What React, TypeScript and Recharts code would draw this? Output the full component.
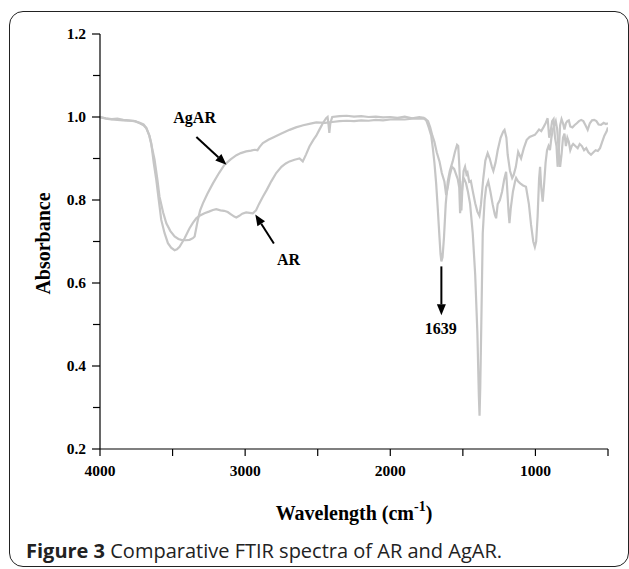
import React from "react";
import {
  LineChart,
  Line,
  XAxis,
  YAxis,
  ReferenceLine,
  ReferenceDot,
} from "recharts";

// wavenumber (cm-1) / absorbance pairs
const arWavenumber = [
  4000, 3960, 3920, 3880, 3840, 3800, 3760, 3726, 3700, 3681, 3660, 3647, 3630, 3612, 3595, 3578,
  3555, 3532, 3510, 3486, 3470, 3452, 3435, 3417, 3400, 3383, 3360, 3337, 3314, 3280, 3250, 3222,
  3199, 3170, 3145, 3120, 3100, 3075, 3061, 3040, 3020, 2993, 2970, 2947, 2925, 2905, 2878, 2850,
  2820, 2786, 2750, 2720, 2694, 2660, 2625, 2603, 2580, 2557, 2530, 2510, 2489, 2465, 2442, 2432,
  2425, 2420, 2413, 2400, 2350, 2300, 2250, 2200, 2150, 2100, 2050, 2000, 1950, 1900, 1850, 1800,
  1770, 1750, 1735, 1718, 1707, 1696, 1684, 1673, 1661, 1654, 1648, 1640, 1630, 1618, 1604, 1590,
  1570, 1555, 1540, 1532, 1524, 1515, 1510, 1503, 1495, 1485, 1475, 1468, 1456, 1445, 1432, 1415,
  1400, 1386, 1375, 1360, 1345, 1329, 1315, 1300, 1290, 1275, 1260, 1240, 1222, 1213, 1200, 1191,
  1175, 1160, 1150, 1135, 1119, 1099, 1080, 1060, 1040, 1020, 1004, 990, 975, 960, 945, 930, 916,
  905, 895, 885, 875, 865, 855, 847, 840, 830, 820, 810, 800, 790, 780, 770, 760, 745, 731, 715,
  700, 685, 670, 655, 640, 625, 610, 595, 580, 565, 548, 530, 515, 500,
];
const arAbsorbance = [
  1.0, 0.997, 0.995, 0.996, 0.993, 0.992, 0.99, 0.985, 0.98, 0.973, 0.955, 0.937, 0.89, 0.848, 0.8, 0.752,
  0.72, 0.696, 0.685, 0.679, 0.681, 0.687, 0.697, 0.708, 0.72, 0.732, 0.745, 0.756, 0.762, 0.768, 0.772, 0.776,
  0.778, 0.775, 0.774, 0.771, 0.766, 0.76, 0.758, 0.762, 0.767, 0.77, 0.769, 0.768, 0.775, 0.79, 0.808, 0.825,
  0.845, 0.865, 0.88, 0.888, 0.893, 0.897, 0.9, 0.893, 0.91, 0.929, 0.945, 0.955, 0.969, 0.985, 0.997, 1.0,
  0.98, 0.962, 0.985, 1.0, 1.002, 1.003, 1.001, 1.002, 1.0, 1.001, 0.999, 1.0, 0.998, 1.001, 0.997, 1.0,
  0.998, 0.99, 0.975, 0.955, 0.925, 0.89, 0.84, 0.78, 0.71, 0.67, 0.652, 0.662, 0.71, 0.79, 0.845, 0.87,
  0.893, 0.915, 0.933, 0.93, 0.88, 0.79, 0.775, 0.83, 0.87, 0.88, 0.862, 0.866, 0.844, 0.846, 0.822, 0.792,
  0.772, 0.762, 0.79, 0.85, 0.895, 0.913, 0.9, 0.88, 0.87, 0.89, 0.92, 0.95, 0.965, 0.969, 0.95, 0.909,
  0.87, 0.853, 0.86, 0.88, 0.916, 0.9, 0.925, 0.945, 0.952, 0.955, 0.957, 0.963, 0.97, 0.966, 0.975, 0.985, 0.997,
  0.95, 0.965, 0.99, 0.995, 0.95, 0.93, 0.88, 0.91, 0.98, 0.995, 0.985, 0.97, 0.985, 0.99, 0.992, 0.977, 0.975, 0.98, 0.985,
  0.99, 0.993, 0.99, 0.98, 0.969, 0.985, 0.992, 0.993, 0.99, 0.982, 0.981, 0.986, 0.983, 0.985,
];

const agarWavenumber = [
  4000, 3960, 3920, 3880, 3840, 3800, 3760, 3726, 3700, 3681, 3660, 3647, 3624, 3605, 3590, 3565,
  3543, 3515, 3486, 3460, 3440, 3410, 3383, 3360, 3348, 3326, 3310, 3291, 3260, 3222, 3180, 3142,
  3100, 3060, 3030, 2993, 2960, 2935, 2915, 2900, 2878, 2840, 2800, 2750, 2694, 2650, 2600, 2550,
  2510, 2450, 2400, 2350, 2300, 2250, 2200, 2150, 2100, 2050, 2000, 1950, 1900, 1850, 1800, 1760,
  1740, 1725, 1710, 1696, 1680, 1661, 1645, 1627, 1615, 1604, 1590, 1575, 1560, 1545, 1535, 1525,
  1519, 1512, 1500, 1490, 1478, 1465, 1450, 1432, 1415, 1400, 1390, 1385, 1380, 1372, 1363, 1350,
  1340, 1325, 1310, 1295, 1280, 1271, 1260, 1245, 1230, 1215, 1202, 1195, 1185, 1179, 1170, 1155,
  1140, 1133, 1120, 1105, 1085, 1065, 1045, 1030, 1015, 1004, 995, 985, 975, 968, 960, 950, 940,
  930, 920, 910, 900, 890, 880, 870, 860, 850, 840, 830, 820, 810, 800, 790, 780, 770, 760, 750,
  740, 725, 709, 695, 680, 665, 650, 635, 617, 600, 585, 570, 555, 540, 525, 510, 500,
];
const agarAbsorbance = [
  1.0, 0.996, 0.994, 0.993, 0.992, 0.991, 0.99, 0.986, 0.982, 0.974, 0.955, 0.935, 0.897, 0.85, 0.808, 0.77,
  0.744, 0.725, 0.712, 0.706, 0.704, 0.703, 0.704, 0.708, 0.712, 0.752, 0.775, 0.792, 0.815, 0.84, 0.865, 0.885,
  0.898, 0.908, 0.913, 0.917, 0.919, 0.921, 0.92, 0.928, 0.937, 0.945, 0.952, 0.96, 0.969, 0.975, 0.98, 0.984,
  0.987, 0.986, 0.988, 0.99, 0.991, 0.99, 0.992, 0.991, 0.993, 0.992, 0.994, 0.995, 0.994, 0.996, 0.996, 0.996,
  0.99, 0.975, 0.955, 0.94, 0.915, 0.893, 0.865, 0.844, 0.812, 0.83, 0.86, 0.88, 0.875, 0.86, 0.85, 0.83,
  0.768, 0.8, 0.845, 0.85, 0.84, 0.82, 0.79, 0.72, 0.62, 0.48, 0.33, 0.28, 0.35, 0.52, 0.72, 0.8,
  0.83, 0.845, 0.82, 0.79, 0.765, 0.756, 0.79, 0.8, 0.82, 0.85, 0.868, 0.83, 0.77, 0.744, 0.78, 0.82,
  0.845, 0.853, 0.845, 0.84, 0.835, 0.832, 0.79, 0.74, 0.7, 0.687, 0.7, 0.76, 0.85, 0.88, 0.83, 0.796, 0.84,
  0.89, 0.92, 0.93, 0.92, 0.95, 0.97, 0.98, 0.99, 0.97, 0.92, 0.88, 0.91, 0.95, 0.96, 0.93, 0.95, 0.94, 0.92, 0.93,
  0.935, 0.93, 0.925, 0.935, 0.93, 0.92, 0.925, 0.915, 0.909, 0.915, 0.92, 0.918, 0.925, 0.94, 0.955, 0.965, 0.975,
];

const xTicks = [4000, 3500, 3000, 2500, 2000, 1500, 1000, 500];
const yTicks = [0.2, 0.3, 0.4, 0.5, 0.6, 0.7, 0.8, 0.9, 1.0, 1.1, 1.2];

const arData = arWavenumber.map((w, i) => ({ w, a: arAbsorbance[i] }));
const agarData = agarWavenumber.map((w, i) => ({ w, a: agarAbsorbance[i] }));

const SERIF = "'Liberation Serif', 'Times New Roman', serif";
const SPECTRUM = "#c6c6c6";

const XTick = (props: any) => {
  const { x, y, payload } = props;
  const v = payload.value;
  return (
    <g>
      <line x1={x} y1={y} x2={x} y2={y + 7} stroke="#000" strokeWidth={1.2} />
      {v % 1000 === 0 && (
        <text x={x} y={y + 27} textAnchor="middle" fontFamily={SERIF} fontWeight="bold" fontSize={15.5} fill="#000">
          {v}
        </text>
      )}
    </g>
  );
};

const YTick = (props: any) => {
  const { x, y, payload } = props;
  const v = Math.round(payload.value * 10);
  const major = v % 2 === 0;
  return (
    <g>
      <line x1={x - (major ? 8 : 7)} y1={y} x2={x} y2={y} stroke="#000" strokeWidth={1.2} />
      {major && (
        <text x={x - 14} y={y + 5} textAnchor="end" fontFamily={SERIF} fontWeight="bold" fontSize={15.5} fill="#000">
          {(v / 10).toFixed(1)}
        </text>
      )}
    </g>
  );
};

const Arrow = (p: any) => {
  const { x1, y1, x2, y2 } = p;
  const dx = x2 - x1;
  const dy = y2 - y1;
  const len = Math.hypot(dx, dy) || 1;
  const ux = dx / len;
  const uy = dy / len;
  const hl = 11;
  const hw = 4.5;
  const bx = x2 - ux * hl;
  const by = y2 - uy * hl;
  return (
    <g>
      <line x1={x1} y1={y1} x2={bx} y2={by} stroke="#000" strokeWidth={2} />
      <polygon
        points={`${x2},${y2} ${bx - uy * hw},${by + ux * hw} ${bx + uy * hw},${by - ux * hw}`}
        fill="#000"
      />
    </g>
  );
};

const tag = (text: string) => (p: any) => (
  <text
    x={p.cx}
    y={p.cy}
    textAnchor="middle"
    dominantBaseline="central"
    fontFamily={SERIF}
    fontWeight="bold"
    fontSize={16}
    fill="#000"
  >
    {text}
  </text>
);

const YTitle = (props: any) => {
  const vb = props.viewBox || { x: 0, y: 34, width: 100, height: 415 };
  const cx = 43;
  const cy = vb.y + vb.height / 2 + 2;
  return (
    <text
      x={cx}
      y={cy}
      transform={`rotate(-90 ${cx} ${cy})`}
      textAnchor="middle"
      dominantBaseline="central"
      fontFamily={SERIF}
      fontWeight="bold"
      fontSize={20}
      fill="#000"
    >
      Absorbance
    </text>
  );
};

const XTitle = (props: any) => {
  const vb = props.viewBox || { x: 100, y: 449, width: 508, height: 120 };
  const cx = vb.x + vb.width / 2;
  return (
    <text x={cx} y={520} textAnchor="middle" fontFamily={SERIF} fontWeight="bold" fontSize={20} fill="#000">
      <tspan>Wavelength (cm</tspan>
      <tspan dy={-9} fontSize={14}>-1</tspan>
      <tspan dy={9}>)</tspan>
    </text>
  );
};

export default function App() {
  return (
    <div style={{ position: "absolute", left: 0, top: 0, width: 629, height: 569, background: "#fff" }}>
      <div
        style={{
          position: "absolute",
          left: 9,
          top: 11,
          width: 620,
          height: 556,
          boxSizing: "border-box",
          border: "1.5px solid #222",
          borderRadius: 14,
        }}
      />
      <LineChart
        width={629}
        height={569}
        margin={{ top: 34, right: 21, bottom: 0, left: 0 }}
        style={{ position: "absolute", left: 0, top: 0 }}
      >
        <XAxis
          dataKey="w"
          type="number"
          domain={[500, 4000]}
          reversed
          ticks={xTicks}
          interval={0}
          height={120}
          tickSize={0}
          tickMargin={0}
          tick={XTick}
          axisLine={{ stroke: "#000", strokeWidth: 1.2 }}
          allowDataOverflow
          label={XTitle}
        />
        <YAxis
          type="number"
          domain={[0.2, 1.2]}
          ticks={yTicks}
          interval={0}
          width={100}
          tickSize={0}
          tickMargin={0}
          tick={YTick}
          axisLine={{ stroke: "#000", strokeWidth: 1.2 }}
          allowDataOverflow
          label={YTitle}
        />
        <Line
          data={arData}
          dataKey="a"
          type="linear"
          stroke={SPECTRUM}
          strokeWidth={2.2}
          dot={false}
          activeDot={false}
          isAnimationActive={false}
        />
        <Line
          data={agarData}
          dataKey="a"
          type="linear"
          stroke={SPECTRUM}
          strokeWidth={2.2}
          dot={false}
          activeDot={false}
          isAnimationActive={false}
        />
        <ReferenceLine segment={[{ x: 3336, y: 0.952 }, { x: 3129, y: 0.885 }]} shape={Arrow} />
        <ReferenceLine segment={[{ x: 2802, y: 0.695 }, { x: 2930, y: 0.765 }]} shape={Arrow} />
        <ReferenceLine segment={[{ x: 1648, y: 0.64 }, { x: 1648, y: 0.522 }]} shape={Arrow} />
        <ReferenceDot x={3348} y={0.998} r={0} shape={tag("AgAR")} />
        <ReferenceDot x={2701} y={0.657} r={0} shape={tag("AR")} />
        <ReferenceDot x={1652} y={0.491} r={0} shape={tag("1639")} />
      </LineChart>
      <div
        style={{
          position: "absolute",
          left: 26,
          top: 538,
          lineHeight: "26px",
          fontFamily: "'Open Sans', sans-serif",
          fontSize: 20,
          color: "#222",
          whiteSpace: "nowrap",
        }}
      >
        <b>Figure 3</b> Comparative FTIR spectra of AR and AgAR.
      </div>
    </div>
  );
}
